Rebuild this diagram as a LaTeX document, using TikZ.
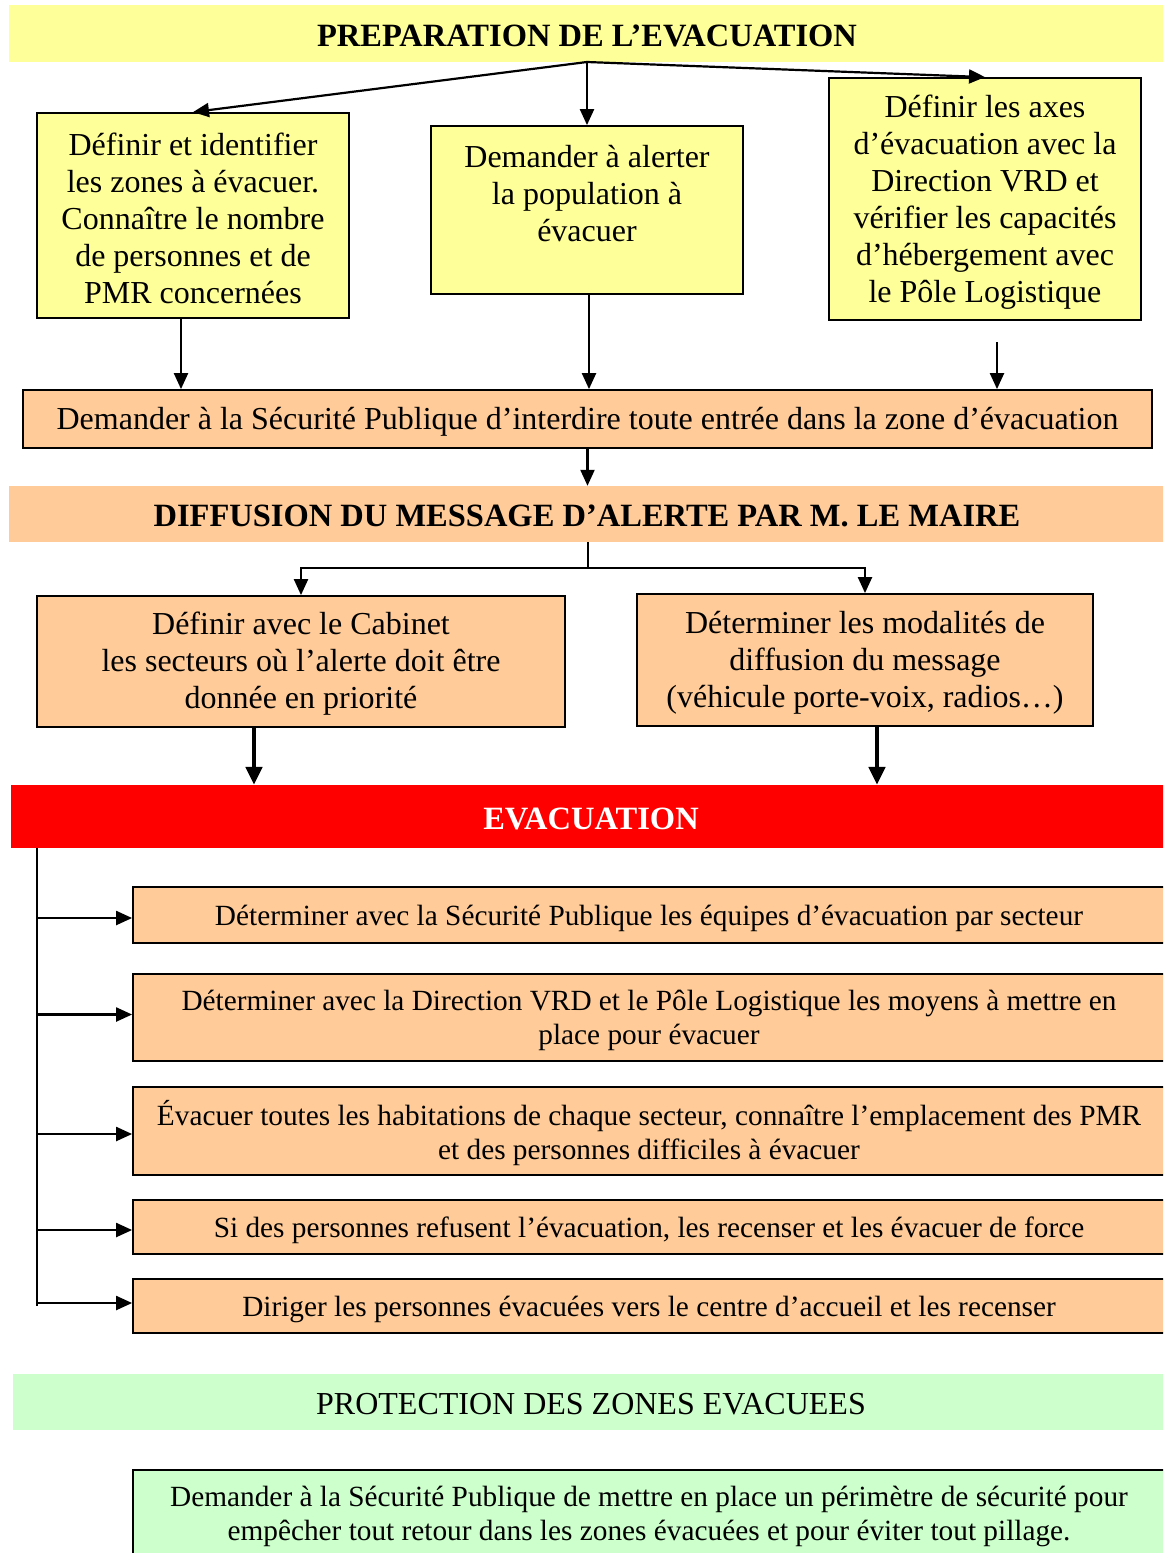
\documentclass[tikz,border=0pt]{standalone}
\usepackage{fontspec}
\setmainfont{Liberation Serif}
\usetikzlibrary{arrows.meta,calc}
\definecolor{paleyellow}{HTML}{FFFF99}
\definecolor{peach}{HTML}{FFCC99}
\definecolor{alertred}{HTML}{FF0000}
\definecolor{palegreen}{HTML}{CCFFCC}

\begin{document}
\begin{tikzpicture}[x=1pt,y=-1pt,
  big/.style={font=\fontsize{32}{37}\selectfont, align=center, inner sep=0pt},
  title/.style={font=\fontsize{32.5}{37}\selectfont\bfseries, align=center, inner sep=0pt},
  small/.style={font=\fontsize{29.3}{34}\selectfont, align=center, inner sep=0pt},
  band/.style={inner sep=0pt},
  boxed/.style={draw=black, line width=1.8pt, inner sep=0pt},
  arr/.style={line width=2.2pt, -{Triangle[length=16pt,width=14pt]}},
  thickarr/.style={line width=4.6pt, -{Triangle[length=18pt,width=16pt]}},
  link/.style={line width=2.2pt}
]
\useasboundingbox (0,0) rectangle (1163,1553);
\clip (0,0) rectangle (1163,1553);

% ---- Préparation
\node[band, fill=paleyellow, minimum width=1156pt, minimum height=57pt] (h1) at (587,33.5) {};
\node[title] (h1t) at ($(h1)+(0,2)$) {PREPARATION DE L’EVACUATION};

\node[boxed, fill=paleyellow, minimum width=312pt, minimum height=205pt] (zones) at (193,215.5) {};
\node[big] (zonest) at ($(zones)+(0,2.5)$)
  {Définir et identifier\\les zones à évacuer.\\Connaître le nombre\\de personnes et de\\PMR concernées};
\node[boxed, fill=paleyellow, minimum width=312pt, minimum height=168pt] (alerter) at (587,210) {};
\node[big] (alertert) at ($(alerter)+(0,-16)$)
  {Demander à alerter\\la population à\\évacuer};
\node[boxed, fill=paleyellow, minimum width=312pt, minimum height=242pt] (axes) at (985,199) {};
\node[big] (axest) at ($(axes)+(0,3)$)
  {Définir les axes\\d’évacuation avec la\\Direction VRD et\\vérifier les capacités\\d’hébergement avec\\le Pôle Logistique};

\node[boxed, fill=peach, minimum width=1129pt, minimum height=58pt] (interdire) at (587.5,419) {};
\node[big] (interdiret) at ($(interdire)+(0,3)$)
  {Demander à la Sécurité Publique d’interdire toute entrée dans la zone d’évacuation};

\coordinate (split) at (587,62);
\draw[arr] (split) -- (zones.north);
\draw[arr] (split) -- (alerter.north);
\draw[arr] (split) -- (axes.north);

\coordinate (zdrop) at ($(zones.south)+(-12,0)$);
\coordinate (adrop) at ($(alerter.south)+(2,0)$);
\coordinate (cdrop) at (997,342);
\draw[arr] (zdrop) -- (zdrop |- interdire.north);
\draw[arr] (adrop) -- (adrop |- interdire.north);
\draw[arr] (cdrop) -- (cdrop |- interdire.north);

% ---- Diffusion
\node[band, fill=peach, minimum width=1156pt, minimum height=56pt] (h2) at (587,514) {};
\node[title] (h2t) at ($(h2)+(0,2)$) {DIFFUSION DU MESSAGE D’ALERTE PAR M. LE MAIRE};
\draw[arr] (interdire.south) -- (interdire.south |- h2.north);

\node[boxed, fill=peach, minimum width=528pt, minimum height=131pt] (cabinet) at (301,661.5) {};
\node[big] (cabinett) at ($(cabinet)+(0,2.5)$)
  {Définir avec le Cabinet\\les secteurs où l’alerte doit être\\donnée en priorité};
\node[boxed, fill=peach, minimum width=456pt, minimum height=132pt] (modalites) at (865,660) {};
\node[big] (modalitest) at ($(modalites)+(0,2.5)$)
  {Déterminer les modalités de\\diffusion du message\\(véhicule porte-voix, radios…)};

\coordinate (fork) at ($(h2.south)+(1,26)$);
\draw[link] (h2.south -| fork) -- (fork);
\draw[arr] (fork) -| (cabinet.north);
\draw[arr] (fork) -| (modalites.north);

% ---- Evacuation
\node[band, fill=alertred, minimum width=1154pt, minimum height=63pt] (evac) at (588,816.5) {};
\node[title, text=white] (evact) at ($(evac)+(3,2)$) {EVACUATION};

\coordinate (edrop) at ($(cabinet.south)+(-47,0)$);
\coordinate (mdrop) at ($(modalites.south)+(12,0)$);
\draw[thickarr] (edrop) -- (edrop |- evac.north);
\draw[thickarr] (mdrop) -- (mdrop |- evac.north);

\node[boxed, fill=peach, minimum width=1032pt, minimum height=56pt] (g1) at (649,915) {};
\node[small] (g1t) at ($(g1)+(0,3)$)
  {Déterminer avec la Sécurité Publique les équipes d’évacuation par secteur};
\node[boxed, fill=peach, minimum width=1032pt, minimum height=87pt] (g2) at (649,1017.5) {};
\node[small] (g2t) at ($(g2)+(0,3)$)
  {Déterminer avec la Direction VRD et le Pôle Logistique les moyens à mettre en\\place pour évacuer};
\node[boxed, fill=peach, minimum width=1032pt, minimum height=88pt] (g3) at (649,1131) {};
\node[small] (g3t) at ($(g3)+(0,2.5)$)
  {Évacuer toutes les habitations de chaque secteur, connaître l’emplacement des PMR\\et des personnes difficiles à évacuer};
\node[boxed, fill=peach, minimum width=1032pt, minimum height=54pt] (g4) at (649,1227) {};
\node[small] (g4t) at ($(g4)+(0,3)$)
  {Si des personnes refusent l’évacuation, les recenser et les évacuer de force};
\node[boxed, fill=peach, minimum width=1032pt, minimum height=54pt] (g5) at (649,1306) {};
\node[small] (g5t) at ($(g5)+(0,3)$)
  {Diriger les personnes évacuées vers le centre d’accueil et les recenser};

\coordinate (trunktop) at (37,848);
\coordinate (trunkend) at (37,1306);
\draw[line width=2pt] (trunktop) -- (trunkend);
\foreach \g/\dy in {g1/3,g2/-3,g3/3,g4/3,g5/-3}
  \draw[arr] ($(trunktop |- \g.west)+(0,\dy)$) -- ($(\g.west)+(0,\dy)$);

% ---- Protection
\node[band, fill=palegreen, minimum width=1152pt, minimum height=56pt] (h3) at (589,1402) {};
\node[big] (h3t) at ($(h3)+(2,2)$) {PROTECTION DES ZONES EVACUEES};
\node[boxed, fill=palegreen, minimum width=1032pt, minimum height=92pt] (perimetre) at (649,1516) {};
\node[small] (perimetret) at ($(perimetre)+(0,0)$)
  {Demander à la Sécurité Publique de mettre en place un périmètre de sécurité pour\\empêcher tout retour dans les zones évacuées et pour éviter tout pillage.};
\end{tikzpicture}
\end{document}
